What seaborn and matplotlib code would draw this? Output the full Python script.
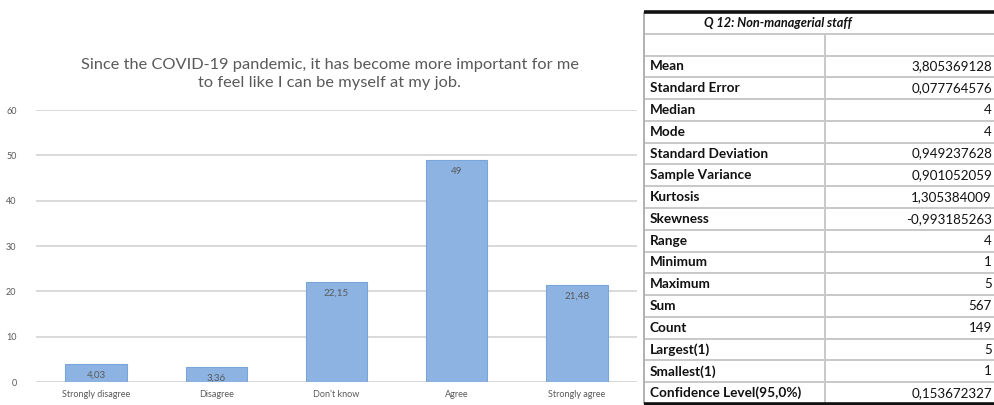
import matplotlib
matplotlib.use("Agg")
import matplotlib.pyplot as plt
import seaborn as sns
import pandas as pd

# Survey responses (percent of non-managerial staff)
categories = ["Strongly disagree", "Disagree", "Don't know", "Agree", "Strongly agree"]
percentages = [4.03, 3.36, 22.15, 49, 21.48]
y_ticks = [0, 10, 20, 30, 40, 50, 60]
title_text = ("Since the COVID-19 pandemic, it has become more important for me\n"
              "to feel like I can be myself at my job.")

# Descriptive statistics table
table_title = "Q 12: Non-managerial staff"
stat_names = ["Mean", "Standard Error", "Median", "Mode", "Standard Deviation",
              "Sample Variance", "Kurtosis", "Skewness", "Range", "Minimum",
              "Maximum", "Sum", "Count", "Largest(1)", "Smallest(1)",
              "Confidence Level(95,0%)"]
stat_values = ["3,805369128", "0,077764576", "4", "4", "0,949237628",
               "0,901052059", "1,305384009", "-0,993185263", "4", "1",
               "5", "567", "149", "5", "1", "0,153672327"]

sns.set_theme(style="white")
plt.rcParams["font.family"] = ["Lato", "DejaVu Sans"]

W, H, DPI = 995, 405, 100
fig = plt.figure(figsize=(W / DPI, H / DPI), dpi=DPI)
fig.patch.set_facecolor("white")

# ---- bar chart ----
ax_l, ax_r, ax_b, ax_t = 36, 637, 382, 110
ax = fig.add_axes([ax_l / W, (H - ax_b) / H, (ax_r - ax_l) / W, (ax_b - ax_t) / H])
df = pd.DataFrame({"category": categories, "percent": percentages})
sns.barplot(data=df, x="category", y="percent", color="#8db3e2", width=0.51,
            saturation=1, edgecolor="#7aa5d8", linewidth=0.8, ax=ax, zorder=3)
ax.set_ylim(0, 60)
ax.set_yticks(y_ticks)
ax.set_xlabel("")
ax.set_ylabel("")
for s in ax.spines.values():
    s.set_visible(False)
ax.grid(axis="y", color="#d9d9d9", linewidth=1.4, zorder=0)
ax.grid(axis="x", visible=False)
ax.tick_params(axis="y", length=0, pad=14, labelsize=6.5, labelcolor="#595959")
ax.tick_params(axis="x", length=0, pad=6, labelsize=6.5, labelcolor="#595959")

labels = [f"{v:g}".replace(".", ",") for v in percentages]
ax.bar_label(ax.containers[0], labels=labels, padding=-11.5, fontsize=7,
             color="#595959")

fig.text(330 / W, 1 - 74 / H, title_text, ha="center",
         va="center", fontsize=11.8, color="#595959", linespacing=1.4)

# ---- statistics table ----
tb = fig.add_axes([0, 0, 1, 1], zorder=5)
tb.set_xlim(0, W)
tb.set_ylim(H, 0)
tb.axis("off")

left, divider, right = 644, 825, 1010
top = 12.0
row_h = (404 - top) / (len(stat_names) + 2)
n_rows = len(stat_names) + 2
bounds = [top + i * row_h for i in range(n_rows + 1)]

tb.fill_between([left, right], bounds[0], bounds[-1], color="white", zorder=1)
for yb in bounds[1:-1]:
    tb.hlines(yb, left, right, color="#c8c8c8", linewidth=1.4, zorder=2)
tb.hlines(bounds[0], left, right, color="#111111", linewidth=2.6, zorder=3)
tb.hlines(bounds[-1], left, right, color="#111111", linewidth=2.6, zorder=3)
tb.vlines(left, bounds[0], bounds[-1], color="#b0b0b0", linewidth=1.4, zorder=2)
tb.vlines(divider, bounds[1], bounds[-1], color="#c8c8c8", linewidth=1.4, zorder=2)

tb.text(778, (bounds[0] + bounds[1]) / 2, table_title, ha="center", va="center",
        fontsize=9.2, style="italic", fontweight="bold", color="#111111", zorder=4)
for i, (name, val) in enumerate(zip(stat_names, stat_values)):
    yc = (bounds[i + 2] + bounds[i + 3]) / 2
    tb.text(650, yc, name, ha="left", va="center", fontsize=9.8,
            fontweight="bold", color="#111111", zorder=4)
    tb.text(992, yc, val, ha="right", va="center", fontsize=9.6,
            color="#111111", zorder=4)

fig.savefig("out.png", dpi=DPI, facecolor="white")
